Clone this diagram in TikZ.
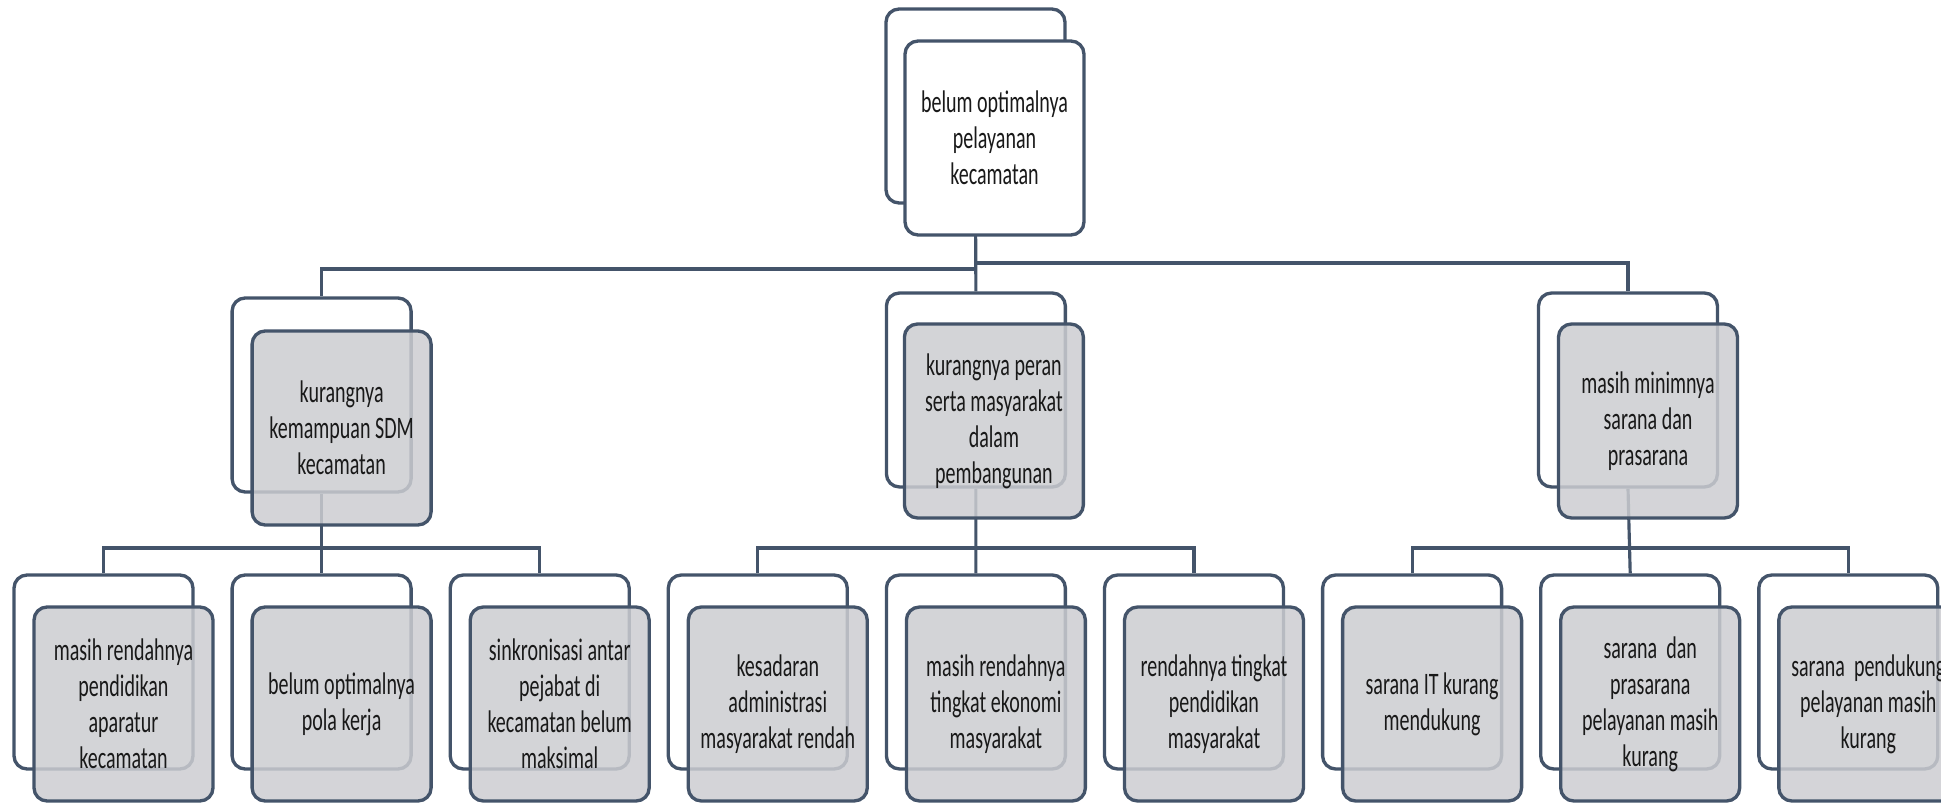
\documentclass[tikz,border=0pt]{standalone}
\usepackage{fontspec}
\setmainfont{Carlito}[FakeStretch=0.64]
\usepackage{xcolor}
\definecolor{boxline}{RGB}{68,84,106}
\definecolor{boxgray}{RGB}{204,205,209}
\definecolor{boxtext}{RGB}{25,25,25}
\usetikzlibrary{calc,positioning}
\tikzset{
  backbox/.style={draw=boxline, line width=1.9pt, rounded corners=0.26cm, fill=white,
                  minimum width=3.58cm, minimum height=3.88cm},
  frontbox/.style={draw=boxline, line width=1.9pt, rounded corners=0.26cm, fill=#1,
                   fill opacity=0.85, text opacity=1, text=boxtext, align=center,
                   font=\fontsize{17.8}{20.5}\selectfont, inner sep=2pt,
                   minimum width=3.58cm, minimum height=3.88cm},
  frontbox/.default=boxgray,
  topbox/.style={frontbox=white, fill opacity=1},
  link/.style={draw=boxline, line width=1.8pt},
}

\begin{document}
\begin{tikzpicture}[x=0.02cm, y=-0.02cm]
\useasboundingbox (0,0) rectangle (1941,803);

% Back boxes
\node[backbox] (rootb) at (975.5,106) {};
\node[backbox] (sdmb) at (321.6,395) {};
\node[backbox] (peranb) at (975.9,390) {};
\node[backbox] (saranab) at (1628,390) {};
\foreach \i in {1,...,9}
  \node[backbox] (l\i b) at ({103.5+218.1*(\i-1)},672) {};

% Bars
\coordinate (barL) at (0,269);
\coordinate (barR) at (0,263);
\coordinate (barC) at (0,548);

% Connectors
\draw[link] (rootb.south) -- (peranb.north);
\draw[link] (rootb.south) |- (barL -| sdmb.north) -- (sdmb.north);
\draw[link] (rootb.south) |- (barR -| saranab.north) -- (saranab.north);

\draw[link] (sdmb.south) -- (l2b.north);
\draw[link] (l1b.north) |- (barC -| l3b.north) -- (l3b.north);
\draw[link] (peranb.south) -- (l5b.north);
\draw[link] (l4b.north) |- (barC -| l6b.north) -- (l6b.north);
\draw[link] (saranab.south) -- (l8b.north);
\draw[link] (l7b.north) |- (barC -| l9b.north) -- (l9b.north);

% Front boxes
\node[topbox] (root) at ($(rootb)+(19,32)$) {belum optimalnya\\pelayanan\\kecamatan};
\node[frontbox] (sdm) at ($(sdmb)+(20,33)$) {kurangnya\\kemampuan SDM\\kecamatan};
\node[frontbox] (peran) at ($(peranb)+(18,31)$) {kurangnya peran\\serta masyarakat\\dalam\\pembangunan};
\node[frontbox] (sarana) at ($(saranab)+(20,31)$) {masih minimnya\\sarana dan\\prasarana};

\node[frontbox] (l1) at ($(l1b)+(20,32)$) {masih rendahnya\\pendidikan\\aparatur\\kecamatan};
\node[frontbox] (l2) at ($(l2b)+(20,32)$) {belum optimalnya\\pola kerja};
\node[frontbox] (l3) at ($(l3b)+(20,32)$) {sinkronisasi antar\\pejabat di\\kecamatan belum\\maksimal};
\node[frontbox] (l4) at ($(l4b)+(20,32)$) {kesadaran\\administrasi\\masyarakat rendah};
\node[frontbox] (l5) at ($(l5b)+(20,32)$) {masih rendahnya\\tingkat ekonomi\\masyarakat};
\node[frontbox] (l6) at ($(l6b)+(20,32)$) {rendahnya tingkat\\pendidikan\\masyarakat};
\node[frontbox] (l7) at ($(l7b)+(20,32)$) {sarana IT kurang\\mendukung};
\node[frontbox] (l8) at ($(l8b)+(20,32)$) {sarana\ \ dan\\prasarana\\pelayanan masih\\kurang};
\node[frontbox] (l9) at ($(l9b)+(20,32)$) {sarana\ \ pendukung\\pelayanan masih\\kurang};
\end{tikzpicture}
\end{document}
